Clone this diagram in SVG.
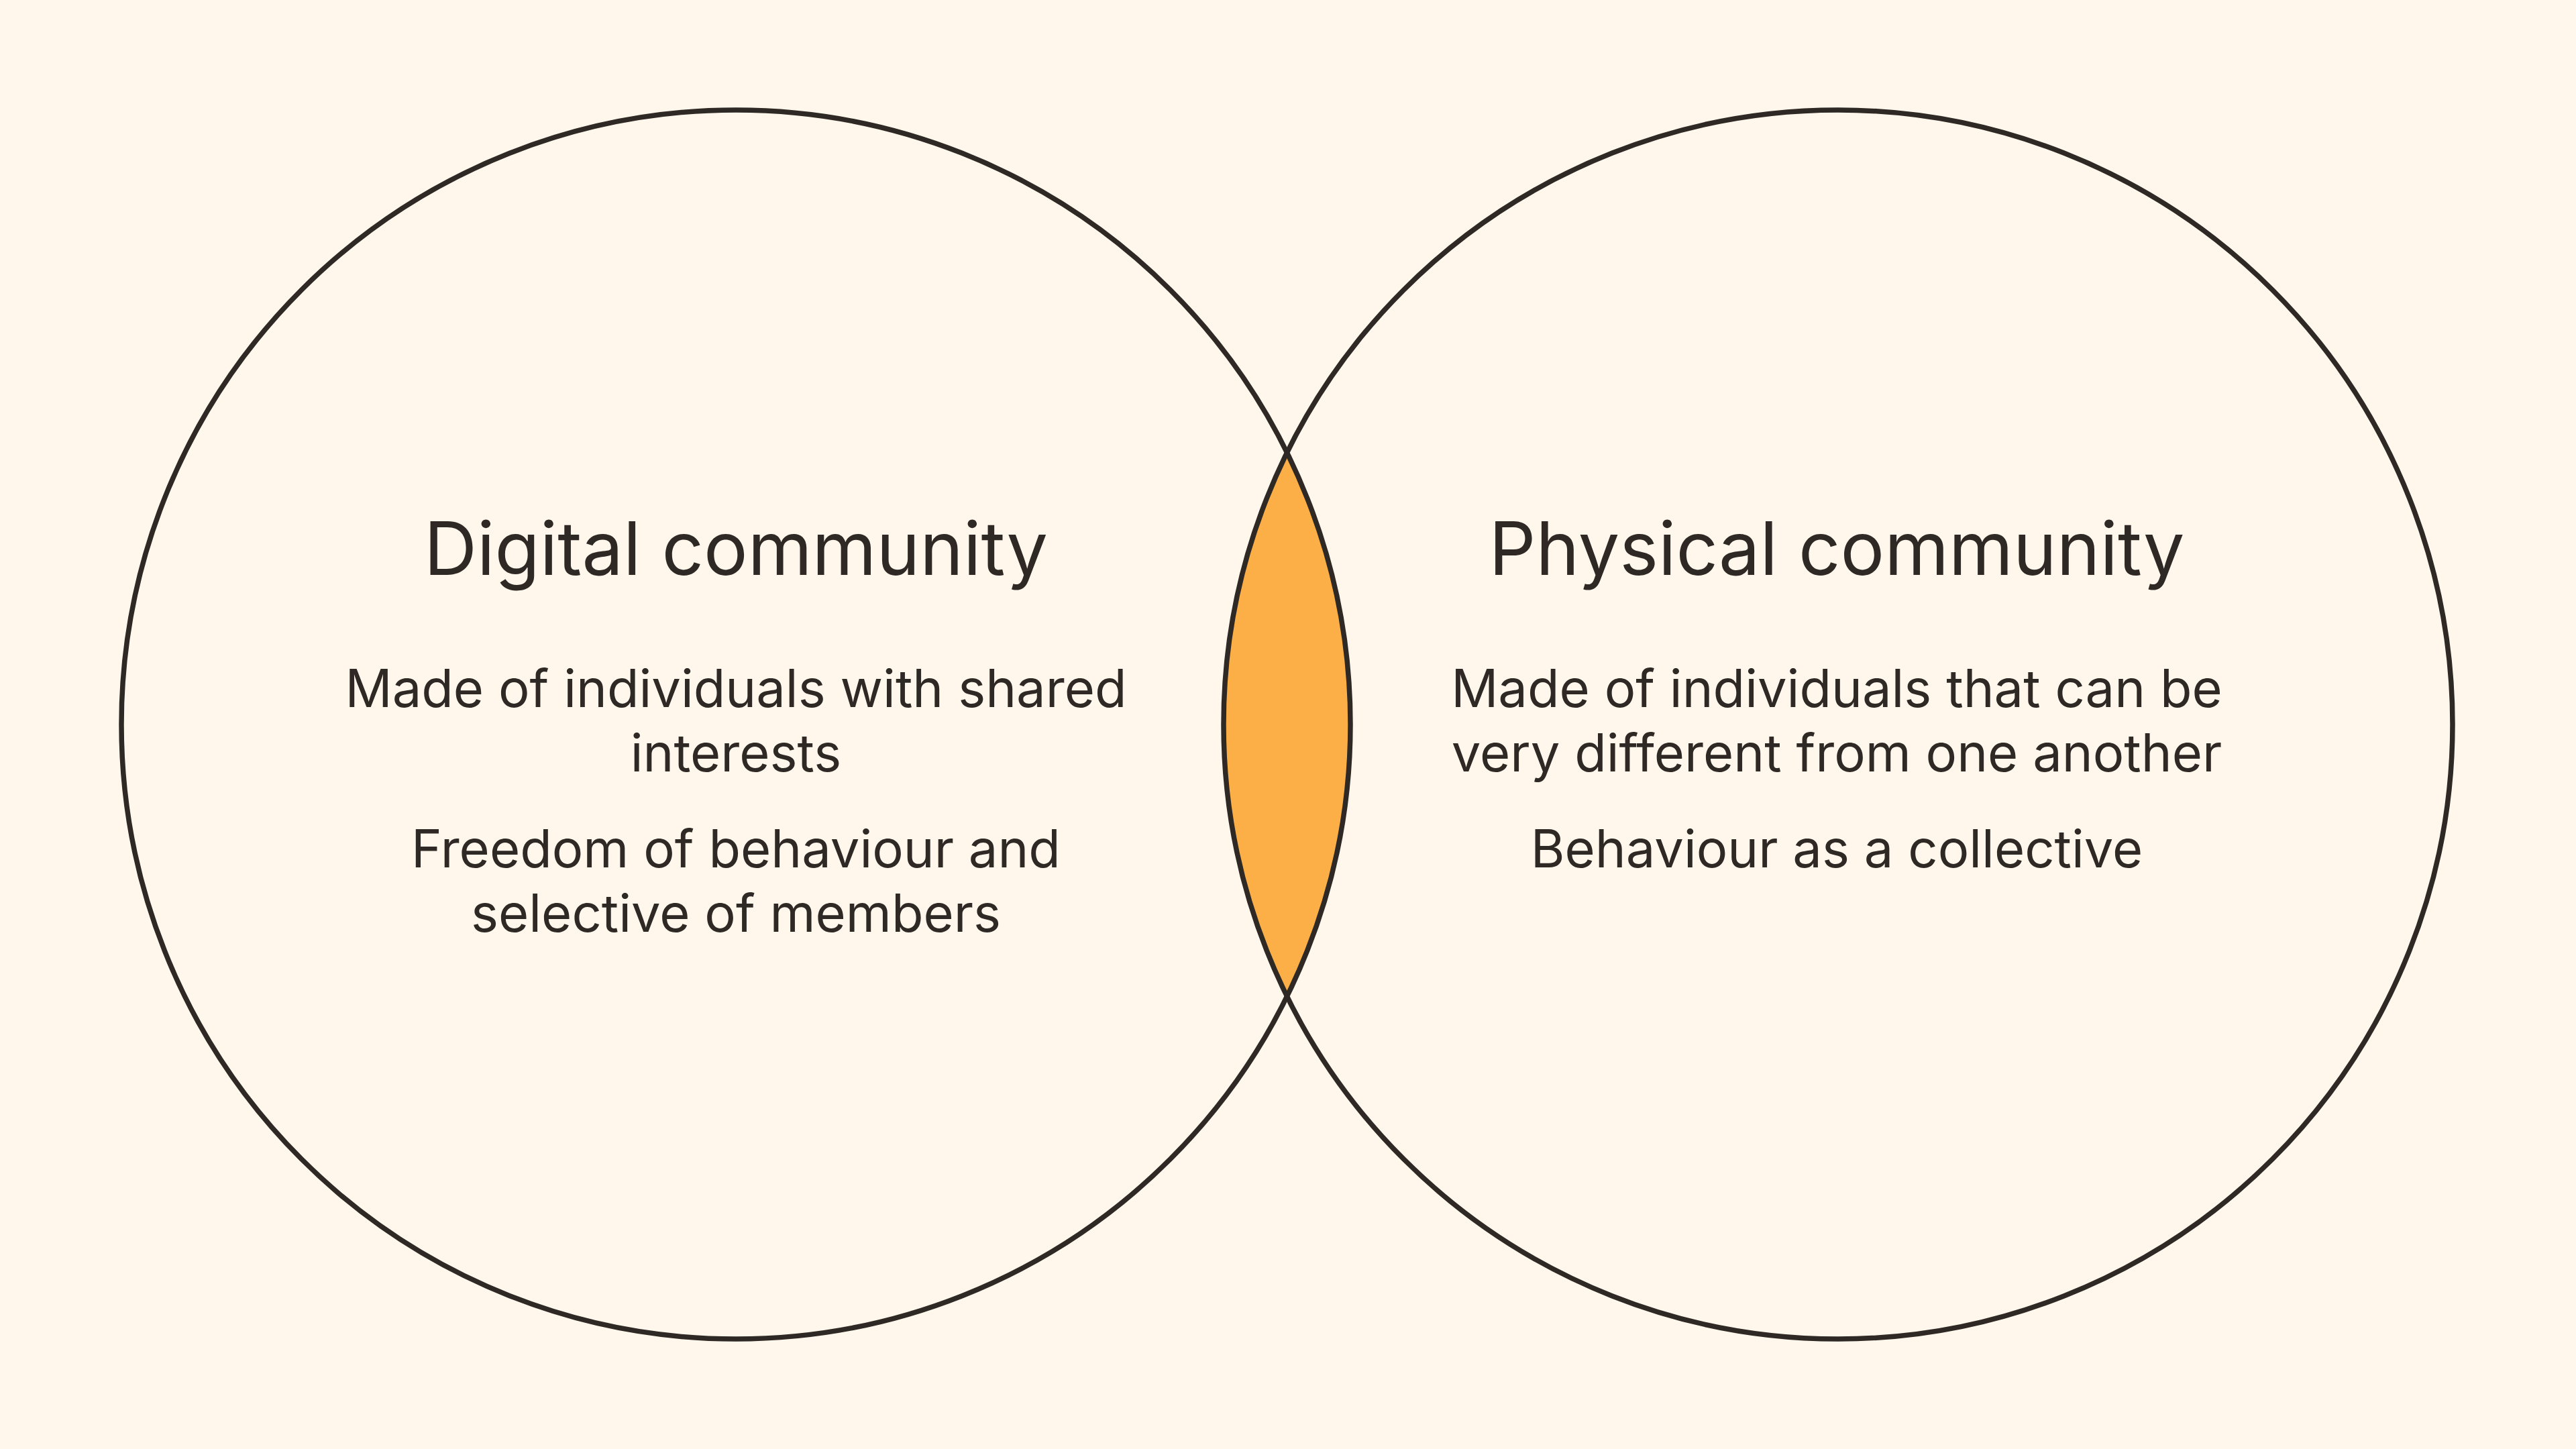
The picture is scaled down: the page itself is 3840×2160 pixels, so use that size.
<svg xmlns="http://www.w3.org/2000/svg" width="3840" height="2160" viewBox="0 0 3840 2160">
  <style>
    .ring { fill: none; stroke: #2E2924; stroke-width: 7.5; }
    .lens { fill: #FBAF46; stroke: none; }
    .title { font-family: Inter, "Noto Sans", "Liberation Sans", sans-serif; font-size: 109.5px; fill: #2E2924; text-anchor: middle; }
    .body { font-family: Inter, "Noto Sans", "Liberation Sans", sans-serif; font-size: 77.7px; fill: #2E2924; text-anchor: middle; }
  </style>
  <rect x="0" y="0" width="3840" height="2160" fill="#FFF6EC"/>
  <g id="overlap">
    <path class="lens" d="M 1918.5 674.8 A 916 916 0 0 0 1918.5 1485.2 A 916 916 0 0 0 1918.5 674.8 Z"/>
  </g>
  <g id="digital">
    <circle class="ring" cx="1097" cy="1080" r="916"/>
    <text class="title" x="1097" y="857">Digital community</text>
    <text class="body" x="1097" y="1054">Made of individuals with shared</text>
    <text class="body" x="1097" y="1150">interests</text>
    <text class="body" x="1097" y="1293">Freedom of behaviour and</text>
    <text class="body" x="1097" y="1389">selective of members</text>
  </g>
  <g id="physical">
    <circle class="ring" cx="2740" cy="1080" r="916"/>
    <text class="title" x="2738" y="857">Physical community</text>
    <text class="body" x="2738" y="1054">Made of individuals that can be</text>
    <text class="body" x="2738" y="1150">very different from one another</text>
    <text class="body" x="2738" y="1293">Behaviour as a collective</text>
  </g>
  <g id="connectors"></g>
</svg>
